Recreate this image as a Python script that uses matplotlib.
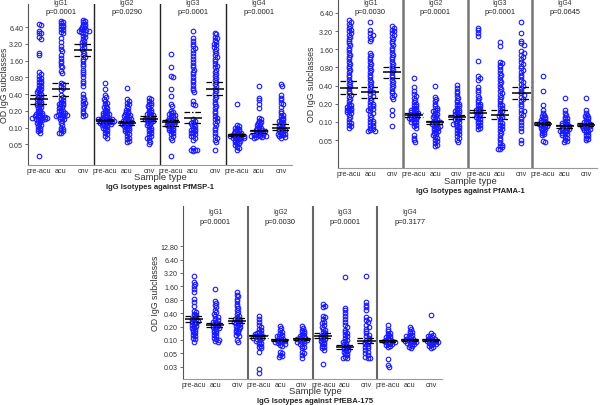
import numpy as np
import matplotlib
matplotlib.use("Agg")
import matplotlib.pyplot as plt

plt.rcParams['font.family'] = ['Liberation Sans', 'DejaVu Sans']

# ---------------- data ----------------
groups = ["pre-acu", "acu", "cnv"]
isotypes = ["IgG1", "IgG2", "IgG3", "IgG4"]

# Panel A: PfMSP-1
msp1_igg1_pre = [7.4, 6.9, 5.4, 5.0, 4.9, 4.2, 3.9, 2.2, 2.0, 0.98, 0.92, 0.83, 0.78, 0.74, 0.70, 0.66, 0.62, 0.58, 0.55, 0.52, 0.50, 0.48, 0.46, 0.44, 0.42, 0.40, 0.38, 0.36, 0.35, 0.33, 0.32, 0.30, 0.29, 0.28, 0.27, 0.26, 0.25, 0.24, 0.23, 0.22, 0.21, 0.20, 0.19, 0.185, 0.18, 0.175, 0.17, 0.165, 0.16, 0.16, 0.155, 0.155, 0.15, 0.15, 0.15, 0.145, 0.145, 0.14, 0.14, 0.135, 0.13, 0.125, 0.12, 0.115, 0.11, 0.105, 0.10, 0.095, 0.09, 0.085, 0.08, 0.031]
msp1_igg1_acu = [8.3, 7.9, 7.5, 7.1, 6.7, 6.4, 6.0, 5.6, 5.3, 5.0, 4.1, 3.4, 2.9, 2.6, 2.4, 2.0, 1.8, 1.6, 1.45, 1.3, 1.2, 1.05, 0.97, 0.64, 0.60, 0.56, 0.52, 0.47, 0.38, 0.36, 0.33, 0.31, 0.29, 0.28, 0.27, 0.26, 0.25, 0.24, 0.23, 0.22, 0.21, 0.20, 0.20, 0.19, 0.185, 0.18, 0.175, 0.17, 0.17, 0.165, 0.16, 0.16, 0.155, 0.15, 0.145, 0.14, 0.13, 0.12, 0.11, 0.10, 0.095, 0.09, 0.085, 0.08, 0.08]
msp1_igg1_cnv = [8.6, 8.2, 7.8, 7.4, 7.0, 6.7, 6.4, 6.1, 5.9, 5.7, 5.6, 5.5, 5.4, 5.3, 5.1, 4.8, 4.5, 4.2, 3.9, 3.6, 3.4, 3.2, 3.0, 2.8, 2.6, 2.4, 2.2, 2.0, 1.85, 1.7, 1.55, 1.4, 1.25, 1.1, 1.0, 0.9, 0.8, 0.7, 0.62, 0.55, 0.40, 0.36, 0.33, 0.30, 0.28, 0.26, 0.24, 0.22, 0.20, 0.18, 0.17, 0.16]
msp1_igg2_pre = [0.62, 0.49, 0.38, 0.35, 0.33, 0.30, 0.28, 0.26, 0.24, 0.23, 0.22, 0.21, 0.20, 0.19, 0.185, 0.18, 0.175, 0.17, 0.165, 0.16, 0.155, 0.15, 0.15, 0.145, 0.145, 0.14, 0.14, 0.14, 0.135, 0.135, 0.13, 0.13, 0.13, 0.125, 0.125, 0.12, 0.12, 0.12, 0.115, 0.115, 0.11, 0.11, 0.105, 0.10, 0.10, 0.095, 0.09, 0.085, 0.08, 0.075, 0.07, 0.065]
msp1_igg2_acu = [0.52, 0.32, 0.30, 0.28, 0.26, 0.24, 0.22, 0.21, 0.20, 0.19, 0.18, 0.175, 0.17, 0.165, 0.16, 0.155, 0.15, 0.145, 0.14, 0.14, 0.135, 0.13, 0.13, 0.125, 0.125, 0.12, 0.12, 0.115, 0.115, 0.11, 0.11, 0.105, 0.10, 0.10, 0.095, 0.09, 0.09, 0.085, 0.08, 0.075, 0.07, 0.066, 0.062, 0.058, 0.055]
msp1_igg2_cnv = [0.34, 0.32, 0.30, 0.28, 0.26, 0.25, 0.24, 0.22, 0.21, 0.20, 0.19, 0.18, 0.175, 0.17, 0.165, 0.16, 0.155, 0.15, 0.15, 0.145, 0.14, 0.14, 0.135, 0.13, 0.13, 0.125, 0.12, 0.115, 0.11, 0.105, 0.10, 0.095, 0.09, 0.085, 0.08, 0.075, 0.07, 0.068, 0.065, 0.06, 0.055, 0.05]
msp1_igg3_pre = [2.1, 1.2, 0.85, 0.80, 0.49, 0.37, 0.26, 0.24, 0.20, 0.19, 0.18, 0.175, 0.17, 0.165, 0.16, 0.155, 0.15, 0.145, 0.14, 0.14, 0.135, 0.13, 0.13, 0.125, 0.125, 0.12, 0.12, 0.115, 0.115, 0.11, 0.11, 0.105, 0.10, 0.10, 0.095, 0.09, 0.09, 0.085, 0.08, 0.075, 0.07, 0.065, 0.06, 0.031]
msp1_igg3_acu = [5.4, 4.0, 3.6, 3.2, 2.9, 2.7, 2.5, 2.2, 1.9, 1.7, 1.5, 1.35, 1.2, 1.1, 1.0, 0.9, 0.8, 0.72, 0.65, 0.58, 0.52, 0.47, 0.43, 0.30, 0.27, 0.25, 0.14, 0.13, 0.125, 0.12, 0.115, 0.11, 0.105, 0.10, 0.095, 0.09, 0.09, 0.085, 0.08, 0.08, 0.075, 0.07, 0.07, 0.065, 0.06, 0.042, 0.040, 0.040, 0.038, 0.040]
msp1_igg3_cnv = [5.1, 4.7, 4.3, 4.0, 3.7, 3.4, 3.2, 3.0, 2.8, 2.6, 2.4, 2.2, 2.0, 1.85, 1.7, 1.55, 1.4, 1.3, 1.2, 1.1, 1.0, 0.92, 0.85, 0.78, 0.72, 0.66, 0.6, 0.55, 0.5, 0.46, 0.42, 0.38, 0.35, 0.32, 0.29, 0.26, 0.24, 0.22, 0.2, 0.18, 0.16, 0.15, 0.14, 0.13, 0.12, 0.11, 0.10, 0.09, 0.08, 0.07, 0.065, 0.06, 0.055, 0.039]
msp1_igg4_pre = [0.26, 0.11, 0.105, 0.10, 0.097, 0.094, 0.091, 0.088, 0.085, 0.083, 0.081, 0.079, 0.077, 0.075, 0.074, 0.073, 0.072, 0.071, 0.07, 0.069, 0.068, 0.067, 0.066, 0.065, 0.064, 0.063, 0.062, 0.06, 0.058, 0.056, 0.054, 0.052, 0.05, 0.048, 0.045, 0.042, 0.04]
msp1_igg4_acu = [0.56, 0.34, 0.31, 0.26, 0.22, 0.15, 0.14, 0.13, 0.125, 0.12, 0.115, 0.11, 0.105, 0.10, 0.098, 0.095, 0.092, 0.09, 0.088, 0.086, 0.084, 0.082, 0.08, 0.078, 0.076, 0.075, 0.074, 0.073, 0.072, 0.071, 0.07, 0.069, 0.068, 0.067, 0.066]
msp1_igg4_cnv = [0.60, 0.55, 0.38, 0.34, 0.31, 0.28, 0.26, 0.23, 0.2, 0.18, 0.17, 0.16, 0.15, 0.14, 0.135, 0.13, 0.125, 0.12, 0.115, 0.11, 0.105, 0.10, 0.098, 0.095, 0.092, 0.09, 0.088, 0.085, 0.082, 0.08, 0.078, 0.076, 0.074, 0.072, 0.07, 0.068, 0.066]
msp1_center = [0.32, 0.49, 2.45, 0.13, 0.12, 0.145, 0.125, 0.15, 0.50, 0.073, 0.085, 0.10]
msp1_low = [0.26, 0.37, 1.9, 0.12, 0.11, 0.13, 0.105, 0.12, 0.38, 0.069, 0.08, 0.09]
msp1_high = [0.38, 0.64, 3.15, 0.14, 0.13, 0.16, 0.135, 0.19, 0.67, 0.077, 0.09, 0.115]
msp1_p = ["p=0.0001", "p=0.0290", "p=0.0001", "p=0.0001"]

# Panel B: PfAMA-1
ama1_igg1_pre = [4.8, 4.5, 4.2, 3.9, 3.6, 3.4, 3.2, 3.0, 2.8, 2.6, 2.4, 2.2, 2.0, 1.85, 1.7, 1.55, 1.4, 1.3, 1.2, 1.1, 1.0, 0.92, 0.85, 0.78, 0.72, 0.66, 0.6, 0.55, 0.5, 0.46, 0.42, 0.39, 0.36, 0.33, 0.30, 0.28, 0.26, 0.24, 0.22, 0.2, 0.19, 0.18, 0.175, 0.17, 0.165, 0.16, 0.155, 0.15, 0.145, 0.14, 0.13, 0.12, 0.11, 0.10, 0.095, 0.09, 0.085, 0.08]
ama1_igg1_acu = [4.6, 3.3, 3.0, 2.8, 2.6, 2.4, 2.2, 1.4, 1.3, 1.2, 1.1, 1.0, 0.92, 0.85, 0.78, 0.72, 0.66, 0.6, 0.55, 0.5, 0.46, 0.42, 0.39, 0.36, 0.33, 0.31, 0.29, 0.27, 0.25, 0.23, 0.21, 0.2, 0.19, 0.18, 0.17, 0.165, 0.16, 0.15, 0.14, 0.13, 0.12, 0.11, 0.105, 0.1, 0.095, 0.09, 0.085, 0.08, 0.075, 0.072, 0.07, 0.07]
ama1_igg1_cnv = [3.85, 3.6, 3.4, 3.2, 3.0, 2.8, 2.6, 2.4, 2.2, 2.0, 1.85, 1.7, 1.55, 1.4, 1.3, 1.2, 1.1, 1.0, 0.92, 0.85, 0.78, 0.72, 0.66, 0.6, 0.55, 0.5, 0.46, 0.42, 0.39, 0.36, 0.33, 0.3, 0.28, 0.26, 0.24, 0.16, 0.13, 0.085]
ama1_igg2_pre = [0.53, 0.38, 0.33, 0.29, 0.27, 0.25, 0.23, 0.21, 0.2, 0.19, 0.18, 0.17, 0.165, 0.16, 0.155, 0.15, 0.145, 0.14, 0.14, 0.135, 0.13, 0.13, 0.125, 0.12, 0.12, 0.115, 0.115, 0.11, 0.11, 0.105, 0.1, 0.1, 0.095, 0.09, 0.085, 0.08, 0.06, 0.055, 0.05, 0.046]
ama1_igg2_acu = [0.39, 0.26, 0.24, 0.22, 0.2, 0.18, 0.17, 0.16, 0.155, 0.15, 0.14, 0.135, 0.13, 0.125, 0.12, 0.115, 0.11, 0.105, 0.1, 0.1, 0.098, 0.095, 0.092, 0.09, 0.088, 0.085, 0.082, 0.08, 0.078, 0.075, 0.072, 0.07, 0.068, 0.065, 0.062, 0.06, 0.057, 0.054, 0.051, 0.048, 0.045, 0.042, 0.04]
ama1_igg2_cnv = [0.41, 0.37, 0.33, 0.3, 0.27, 0.25, 0.23, 0.21, 0.2, 0.19, 0.18, 0.17, 0.16, 0.155, 0.15, 0.145, 0.14, 0.135, 0.13, 0.125, 0.12, 0.115, 0.11, 0.11, 0.105, 0.1, 0.097, 0.094, 0.09, 0.086, 0.082, 0.078, 0.074, 0.07, 0.066, 0.062, 0.058, 0.054, 0.05, 0.046]
ama1_igg3_pre = [3.6, 3.3, 3.0, 2.7, 1.04, 0.58, 0.54, 0.5, 0.38, 0.34, 0.31, 0.27, 0.25, 0.23, 0.21, 0.2, 0.19, 0.18, 0.17, 0.165, 0.16, 0.155, 0.15, 0.145, 0.14, 0.135, 0.13, 0.125, 0.12, 0.115, 0.11, 0.105, 0.1, 0.095, 0.09, 0.085, 0.08, 0.075]
ama1_igg3_acu = [2.1, 1.8, 1.0, 0.95, 0.88, 0.8, 0.72, 0.65, 0.6, 0.55, 0.5, 0.46, 0.42, 0.38, 0.35, 0.32, 0.3, 0.28, 0.26, 0.24, 0.22, 0.2, 0.19, 0.18, 0.17, 0.16, 0.15, 0.14, 0.13, 0.125, 0.12, 0.11, 0.1, 0.095, 0.09, 0.085, 0.08, 0.075, 0.07, 0.065, 0.06, 0.055, 0.05, 0.045, 0.042, 0.04, 0.038, 0.036, 0.035]
ama1_igg3_cnv = [4.6, 3.0, 2.2, 2.0, 1.9, 1.5, 1.4, 1.3, 1.2, 1.1, 1.0, 0.92, 0.85, 0.78, 0.72, 0.66, 0.6, 0.55, 0.5, 0.46, 0.42, 0.39, 0.36, 0.33, 0.3, 0.28, 0.26, 0.24, 0.22, 0.2, 0.18, 0.16, 0.15, 0.14, 0.13, 0.12, 0.11, 0.1, 0.09, 0.08, 0.07, 0.05, 0.045]
ama1_igg4_pre = [0.58, 0.33, 0.19, 0.16, 0.14, 0.13, 0.125, 0.12, 0.115, 0.11, 0.107, 0.104, 0.1, 0.098, 0.096, 0.094, 0.092, 0.09, 0.088, 0.086, 0.084, 0.082, 0.08, 0.078, 0.075, 0.072, 0.069, 0.066, 0.063, 0.06, 0.048, 0.046]
ama1_igg4_acu = [0.25, 0.16, 0.14, 0.13, 0.12, 0.115, 0.11, 0.105, 0.1, 0.097, 0.094, 0.091, 0.088, 0.086, 0.084, 0.082, 0.08, 0.078, 0.076, 0.074, 0.072, 0.07, 0.07, 0.068, 0.066, 0.064, 0.062, 0.06, 0.057, 0.054, 0.05, 0.048, 0.046]
ama1_igg4_cnv = [0.25, 0.16, 0.14, 0.13, 0.125, 0.12, 0.115, 0.11, 0.105, 0.1, 0.098, 0.095, 0.092, 0.09, 0.088, 0.086, 0.084, 0.082, 0.08, 0.078, 0.076, 0.074, 0.072, 0.07, 0.067, 0.064, 0.061, 0.058, 0.055, 0.052, 0.05]
ama1_center = [0.37, 0.31, 0.67, 0.129, 0.10, 0.12, 0.14, 0.13, 0.30, 0.094, 0.085, 0.09]
ama1_low = [0.29, 0.25, 0.53, 0.12, 0.092, 0.11, 0.12, 0.11, 0.24, 0.088, 0.08, 0.085]
ama1_high = [0.47, 0.38, 0.81, 0.14, 0.105, 0.13, 0.16, 0.16, 0.38, 0.10, 0.09, 0.095]
ama1_p = ["p=0.0030", "p=0.0001", "p=0.0001", "p=0.0645"]

# Panel C: PfEBA-175
eba_igg1_pre = [2.78, 2.0, 1.8, 1.6, 1.4, 1.2, 0.83, 0.7, 0.59, 0.45, 0.42, 0.39, 0.36, 0.34, 0.32, 0.3, 0.29, 0.28, 0.27, 0.26, 0.25, 0.24, 0.23, 0.22, 0.21, 0.2, 0.19, 0.18, 0.17, 0.16, 0.15, 0.14, 0.13, 0.12, 0.11, 0.105, 0.092]
eba_igg1_acu = [1.4, 0.76, 0.68, 0.6, 0.54, 0.48, 0.43, 0.39, 0.35, 0.32, 0.3, 0.28, 0.26, 0.25, 0.24, 0.23, 0.22, 0.21, 0.2, 0.195, 0.19, 0.18, 0.17, 0.16, 0.15, 0.14, 0.13, 0.12, 0.11, 0.105, 0.1, 0.095, 0.09]
eba_igg1_cnv = [1.18, 1.05, 0.95, 0.85, 0.75, 0.65, 0.58, 0.52, 0.47, 0.42, 0.38, 0.35, 0.32, 0.3, 0.29, 0.28, 0.27, 0.26, 0.25, 0.24, 0.23, 0.22, 0.21, 0.2, 0.19, 0.18, 0.17, 0.16, 0.15, 0.14, 0.13, 0.125, 0.1, 0.09]
eba_igg2_pre = [0.35, 0.3, 0.25, 0.22, 0.2, 0.18, 0.165, 0.155, 0.145, 0.14, 0.135, 0.13, 0.125, 0.12, 0.12, 0.115, 0.11, 0.11, 0.105, 0.1, 0.095, 0.09, 0.085, 0.08, 0.075, 0.07, 0.065, 0.053, 0.022, 0.018]
eba_igg2_acu = [0.21, 0.19, 0.17, 0.155, 0.14, 0.13, 0.125, 0.12, 0.115, 0.11, 0.105, 0.1, 0.1, 0.098, 0.095, 0.092, 0.09, 0.088, 0.085, 0.082, 0.078, 0.075, 0.054, 0.05, 0.047, 0.044, 0.042]
eba_igg2_cnv = [0.21, 0.19, 0.17, 0.16, 0.15, 0.14, 0.13, 0.125, 0.12, 0.115, 0.11, 0.108, 0.105, 0.102, 0.1, 0.098, 0.095, 0.092, 0.088, 0.084, 0.08, 0.075, 0.07, 0.065, 0.055, 0.05, 0.045, 0.04]
eba_igg3_pre = [0.64, 0.58, 0.54, 0.35, 0.32, 0.29, 0.26, 0.24, 0.22, 0.2, 0.18, 0.165, 0.15, 0.14, 0.13, 0.125, 0.12, 0.115, 0.11, 0.105, 0.1, 0.095, 0.09, 0.085, 0.08, 0.075, 0.07, 0.065, 0.06, 0.029]
eba_igg3_acu = [2.6, 0.52, 0.46, 0.4, 0.35, 0.3, 0.26, 0.22, 0.2, 0.17, 0.15, 0.14, 0.13, 0.12, 0.11, 0.1, 0.095, 0.09, 0.085, 0.08, 0.075, 0.07, 0.068, 0.065, 0.062, 0.06, 0.057, 0.054, 0.051, 0.048, 0.045, 0.042, 0.04, 0.04]
eba_igg3_cnv = [2.7, 0.7, 0.62, 0.54, 0.46, 0.33, 0.3, 0.28, 0.25, 0.22, 0.2, 0.18, 0.16, 0.14, 0.13, 0.12, 0.11, 0.1, 0.095, 0.09, 0.085, 0.08, 0.075, 0.07, 0.065, 0.06, 0.055, 0.05, 0.046, 0.042, 0.04, 0.04]
eba_igg4_pre = [0.22, 0.18, 0.16, 0.145, 0.135, 0.125, 0.12, 0.115, 0.11, 0.105, 0.1, 0.098, 0.096, 0.094, 0.092, 0.09, 0.088, 0.086, 0.083, 0.08, 0.077, 0.074, 0.07, 0.037, 0.028, 0.025]
eba_igg4_acu = [0.2, 0.18, 0.16, 0.15, 0.14, 0.13, 0.125, 0.12, 0.115, 0.11, 0.107, 0.104, 0.1, 0.098, 0.096, 0.094, 0.092, 0.09, 0.088, 0.085, 0.082, 0.078, 0.074, 0.07, 0.066]
eba_igg4_cnv = [0.36, 0.14, 0.13, 0.125, 0.12, 0.115, 0.11, 0.107, 0.104, 0.1, 0.098, 0.096, 0.094, 0.092, 0.09, 0.088, 0.086, 0.083, 0.08, 0.077, 0.074, 0.07, 0.066]
eba_center = [0.296, 0.217, 0.27, 0.12, 0.10, 0.105, 0.125, 0.069, 0.097, 0.094, 0.10, 0.10]
eba_low = [0.26, 0.20, 0.24, 0.11, 0.095, 0.10, 0.11, 0.062, 0.085, 0.09, 0.096, 0.096]
eba_high = [0.34, 0.24, 0.31, 0.13, 0.105, 0.11, 0.14, 0.078, 0.11, 0.098, 0.104, 0.104]
eba_p = ["p=0.0001", "p=0.0030", "p=0.0001", "p=0.3177"]

ticks_ab = [0.05, 0.10, 0.20, 0.40, 0.80, 1.60, 3.20, 6.40]
ticklabels_ab = ["0.05", "0.10", "0.20", "0.40", "0.80", "1.60", "3.20", "6.40"]
ticks_c = [0.025, 0.05, 0.10, 0.20, 0.40, 0.80, 1.60, 3.20, 6.40, 12.80]
ticklabels_c = ["0.03", "0.05", "0.10", "0.20", "0.40", "0.80", "1.60", "3.20", "6.40", "12.80"]

# ---------------- figure ----------------
W, H = 600, 406
fig = plt.figure(figsize=(W / 100, H / 100), dpi=100)
BLUE = "#1a1aff"


def px_axes(l, r, t, b):
    return fig.add_axes([l / W, 1 - b / H, (r - l) / W, (b - t) / H])


def swarm(vals, ppx, ppy, d=2.2):
    ys = np.log2(np.asarray(vals, float)) * ppy
    order = np.argsort(-ys)
    xs = np.zeros(len(ys))
    placed = []
    step = d * 0.5
    for i in order:
        y = ys[i]
        k = 0
        while True:
            for sgn in ([0] if k == 0 else [1, -1]):
                x = sgn * k * step
                ok = True
                for (px_, py_) in placed:
                    if abs(py_ - y) < d and (px_ - x) ** 2 + (py_ - y) ** 2 < d * d:
                        ok = False
                        break
                if ok:
                    break
            if ok:
                break
            k += 1
        placed.append((x, y))
        xs[i] = x
    return xs / ppx


def panel(box, ylim, data, center, low, high, pvals, ticks, ticklabels,
          divider_color, divider_lw, title, title_y, st_y, yl_x, iso_y, p_y, title_x=None):
    l, r, t, b = box
    ax = px_axes(l, r, t, b)
    ax.set_yscale("log", base=2)
    ax.set_ylim(*ylim)
    ax.set_xlim(0, 12)
    ppx = (r - l) / 12.0
    ppy = (b - t) / (np.log2(ylim[1]) - np.log2(ylim[0]))
    for j, vals in enumerate(data):
        xc = j + 0.5
        xo = swarm(vals, ppx, ppy)
        ax.plot(xc + xo, vals, linestyle="none", marker="o", markersize=3.3,
                markerfacecolor="none", markeredgecolor=BLUE, markeredgewidth=0.8,
                zorder=2)
        hw = 0.42
        ax.plot([xc - hw, xc + hw], [center[j], center[j]], color="black", lw=1.1,
                zorder=4, solid_capstyle="butt")
        for v in (low[j], high[j]):
            ax.plot([xc - hw, xc + hw], [v, v], color="black", lw=0.9, zorder=4,
                    linestyle=(0, (4.5, 1.5, 1.2, 1.5)))
    for k in (3, 6, 9):
        ax.axvline(k, color=divider_color, lw=divider_lw, zorder=5)
    for s in ("top", "right"):
        ax.spines[s].set_visible(False)
    ax.spines["left"].set_color("#555555")
    ax.spines["left"].set_linewidth(0.8)
    ax.spines["bottom"].set_color("#999999")
    ax.spines["bottom"].set_linewidth(0.8)
    ax.set_yticks(ticks)
    ax.set_yticklabels(ticklabels)
    ax.minorticks_off()
    ax.tick_params(axis="y", labelsize=5.1, length=2, width=0.5, pad=1.5,
                   colors="#333333")
    ax.set_xticks([j + 0.5 for j in range(12)])
    ax.set_xticklabels(groups * 4)
    ax.tick_params(axis="x", labelsize=5.2, length=0, pad=1.2, colors="#333333")
    for k, iso in enumerate(isotypes):
        xm = l + (k * 3 + 1.5) * ppx
        fig.text(xm / W, 1 - iso_y / H, iso, fontsize=4.8, ha="center", va="center",
                 color="#333333")
        fig.text(xm / W, 1 - p_y / H, pvals[k], fontsize=5.3, ha="center",
                 va="center", color="#222222")
    cx = (l + r) / 2 if title_x is None else title_x
    fig.text(cx / W, 1 - st_y / H, "Sample type", fontsize=6.8, ha="center",
             va="center", color="#333333")
    fig.text(cx / W, 1 - title_y / H, title, fontsize=5.5, fontweight="bold",
             ha="center", va="center", color="#222222")
    fig.text(yl_x / W, 1 - (t + b) / 2 / H, "OD IgG subclasses", fontsize=6.3,
             rotation=90, ha="center", va="center", color="#333333")
    return ax


panel((28, 292, 5, 166), (0.0212, 16.6),
      [msp1_igg1_pre, msp1_igg1_acu, msp1_igg1_cnv,
       msp1_igg2_pre, msp1_igg2_acu, msp1_igg2_cnv,
       msp1_igg3_pre, msp1_igg3_acu, msp1_igg3_cnv,
       msp1_igg4_pre, msp1_igg4_acu, msp1_igg4_cnv],
      msp1_center, msp1_low, msp1_high, msp1_p, ticks_ab, ticklabels_ab,
      "#222222", 1.0, "IgG Isotypes against PfMSP-1", 188, 178, 5, 3.5, 13)

panel((338, 597, 0, 169), (0.0172, 10.9),
      [ama1_igg1_pre, ama1_igg1_acu, ama1_igg1_cnv,
       ama1_igg2_pre, ama1_igg2_acu, ama1_igg2_cnv,
       ama1_igg3_pre, ama1_igg3_acu, ama1_igg3_cnv,
       ama1_igg4_pre, ama1_igg4_acu, ama1_igg4_cnv],
      ama1_center, ama1_low, ama1_high, ama1_p, ticks_ab, ticklabels_ab,
      "#777777", 1.8, "IgG Isotypes against PfAMA-1", 192, 182, 311, 3.5, 13,
      title_x=470)

panel((183, 442, 207, 380), (0.0133, 102.0),
      [eba_igg1_pre, eba_igg1_acu, eba_igg1_cnv,
       eba_igg2_pre, eba_igg2_acu, eba_igg2_cnv,
       eba_igg3_pre, eba_igg3_acu, eba_igg3_cnv,
       eba_igg4_pre, eba_igg4_acu, eba_igg4_cnv],
      eba_center, eba_low, eba_high, eba_p, ticks_c, ticklabels_c,
      "#666666", 1.5, "IgG Isotypes against PfEBA-175", 402, 392, 155, 213, 223,
      title_x=315)

fig.savefig("out.png", dpi=100)
